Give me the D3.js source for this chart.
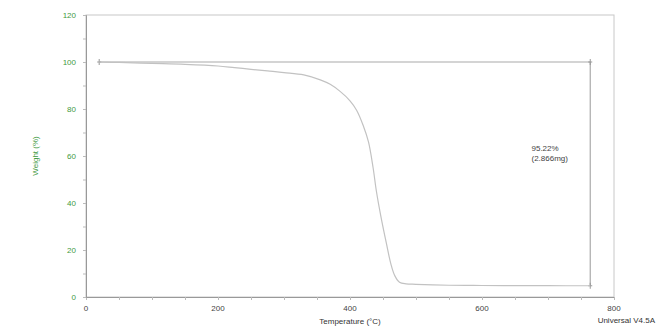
<!DOCTYPE html>
<html>
<head>
<meta charset="utf-8">
<script src="https://cdn.jsdelivr.net/npm/d3@7"></script>
<style>
  body { margin: 0; background: #fff; }
  text { font-family: "Liberation Sans", Arial, sans-serif; }
</style>
</head>
<body>
<script>
// TGA curve
var temps = [20, 50, 100, 150, 200, 225, 250, 275, 300, 330, 355, 370, 385, 400, 410, 420, 428, 435, 440, 447, 455, 462, 468, 475, 485, 500, 550, 600, 650, 700, 764];
var weights = [100, 99.8, 99.4, 99.0, 98.3, 97.6, 96.9, 96.2, 95.5, 94.5, 92.4, 90.5, 87.5, 83.5, 79.5, 73, 66, 55, 45, 34, 23, 14, 9, 6.3, 5.6, 5.4, 5.0, 4.9, 4.85, 4.8, 4.78];
var xTicks = [0, 200, 400, 600, 800];
var yTicks = [0, 20, 40, 60, 80, 100, 120];
var stepStart = 20, stepEnd = 764, stepTop = 100, stepBottom = 4.78;
var stepLabel = ["95.22%", "(2.866mg)"];

var width = 660, height = 329;
var margin = {top: 15, left: 86, right: 46, bottom: 32};

var svg = d3.select('body').append('svg')
  .attr('width', width)
  .attr('height', height);

var x = d3.scaleLinear().domain([0, 800]).range([margin.left, width - margin.right]);
var y = d3.scaleLinear().domain([0, 120]).range([height - margin.bottom, margin.top]);

var green = '#3f9a3f';

// frame
svg.append('rect')
  .attr('x', x(0)).attr('y', y(120))
  .attr('width', x(800) - x(0)).attr('height', y(0) - y(120))
  .attr('fill', 'none').attr('stroke', '#c8c8c8').attr('stroke-width', 1);

// x axis
var xAxis = svg.append('g')
  .attr('transform', 'translate(0,' + y(0) + ')')
  .call(d3.axisBottom(x).tickValues(d3.range(0, 801, 50)).tickSize(3).tickFormat(''));
xAxis.select('.domain').attr('stroke', '#999');
xAxis.selectAll('line').attr('stroke', '#bbb');
svg.append('g').selectAll('text').data(xTicks).enter().append('text')
  .attr('x', function(d) { return x(d); })
  .attr('y', y(0) + 14)
  .attr('text-anchor', 'middle')
  .attr('font-size', 8)
  .attr('fill', '#444')
  .text(function(d) { return d; });

// y axis
var yAxis = svg.append('g')
  .attr('transform', 'translate(' + x(0) + ',0)')
  .call(d3.axisLeft(y).tickValues(d3.range(0, 121, 10)).tickSize(3).tickFormat(''));
yAxis.select('.domain').attr('stroke', '#999');
yAxis.selectAll('line').attr('stroke', '#bbb');
svg.append('g').selectAll('text').data(yTicks).enter().append('text')
  .attr('x', x(0) - 10)
  .attr('y', function(d) { return y(d) + 3; })
  .attr('text-anchor', 'end')
  .attr('font-size', 8)
  .attr('fill', green)
  .text(function(d) { return d; });

svg.append('text')
  .attr('transform', 'translate(38,' + y(60) + ') rotate(-90)')
  .attr('text-anchor', 'middle')
  .attr('font-size', 8)
  .attr('fill', green)
  .text('Weight (%)');

svg.append('text')
  .attr('x', x(400))
  .attr('y', height - 5)
  .attr('text-anchor', 'middle')
  .attr('font-size', 8)
  .attr('fill', '#333')
  .text('Temperature (°C)');

svg.append('text')
  .attr('x', width - 5)
  .attr('y', height - 6)
  .attr('text-anchor', 'end')
  .attr('font-size', 8)
  .attr('fill', '#333')
  .text('Universal V4.5A');

// step annotation
svg.append('line')
  .attr('x1', x(stepStart)).attr('x2', x(stepEnd))
  .attr('y1', y(stepTop)).attr('y2', y(stepTop))
  .attr('stroke', '#aaa').attr('stroke-width', 1.2);
svg.append('line')
  .attr('x1', x(stepEnd)).attr('x2', x(stepEnd))
  .attr('y1', y(stepTop)).attr('y2', y(stepBottom))
  .attr('stroke', '#aaa').attr('stroke-width', 1.2);
[[stepStart, stepTop], [stepEnd, stepTop], [stepEnd, stepBottom]].forEach(function(p) {
  svg.append('line')
    .attr('x1', x(p[0])).attr('x2', x(p[0]))
    .attr('y1', y(p[1]) - 3).attr('y2', y(p[1]) + 3)
    .attr('stroke', '#999').attr('stroke-width', 1);
  svg.append('line')
    .attr('x1', x(p[0]) - 2).attr('x2', x(p[0]) + 2)
    .attr('y1', y(p[1])).attr('y2', y(p[1]))
    .attr('stroke', '#999').attr('stroke-width', 1);
});
svg.append('g').selectAll('text').data(stepLabel).enter().append('text')
  .attr('x', x(675))
  .attr('y', function(d, i) { return y(62) + i * 10; })
  .attr('font-size', 8)
  .attr('fill', '#444')
  .text(function(d) { return d; });

// curve
var pts = temps.map(function(t, i) { return [t, weights[i]]; });
var line = d3.line()
  .x(function(d) { return x(d[0]); })
  .y(function(d) { return y(d[1]); })
  .curve(d3.curveCatmullRom.alpha(0.5));
svg.append('path')
  .datum(pts)
  .attr('d', line)
  .attr('fill', 'none')
  .attr('stroke', '#c2c2c2')
  .attr('stroke-width', 1.2);
</script>
</body>
</html>
